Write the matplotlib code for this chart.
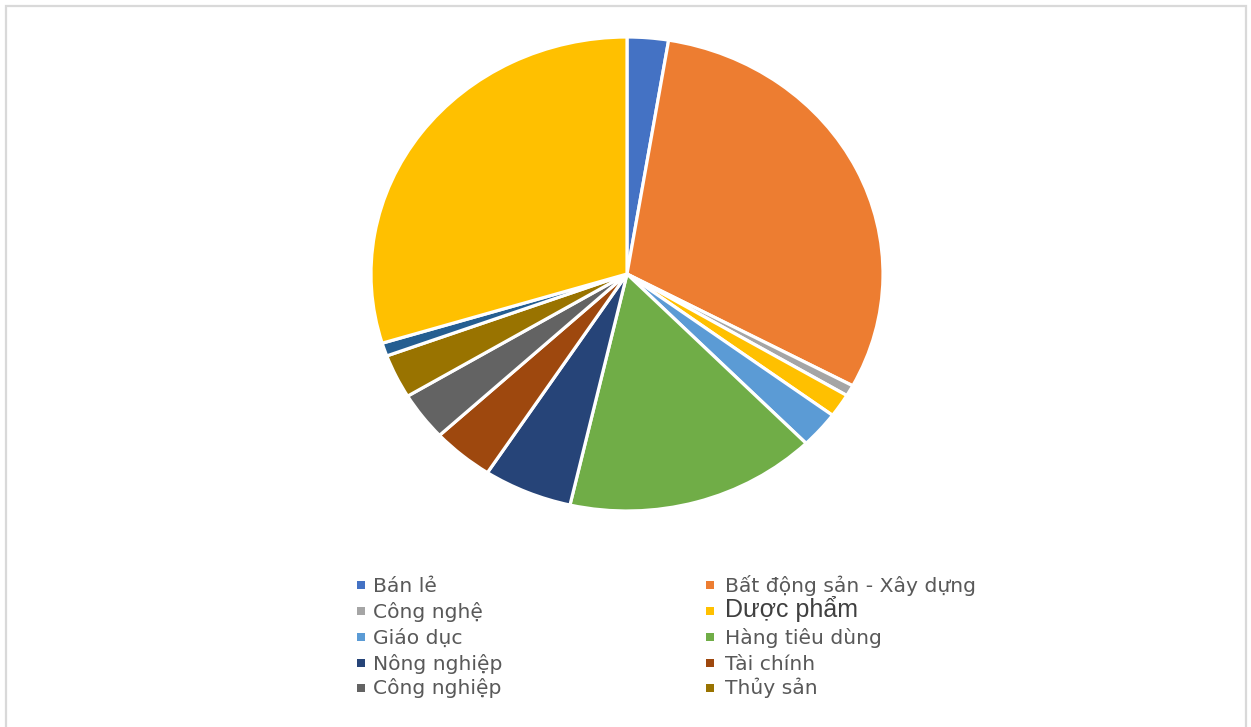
import matplotlib.pyplot as plt
from matplotlib.patches import Rectangle

# sector shares (%), clockwise from 12 o'clock
sectors = ["Bán lẻ", "Bất động sản - Xây dựng", "Công nghệ", "Dược phẩm",
           "Giáo dục", "Hàng tiêu dùng", "Nông nghiệp", "Tài chính",
           "Công nghiệp", "Thủy sản"]
shares = [2.6, 30.2, 0.75, 1.6, 2.5, 15.9, 5.6, 3.9, 3.3, 3.0, 0.9, 29.7]
colors = ["#4472C4", "#ED7D31", "#A5A5A5", "#FFC000", "#5B9BD5", "#70AD47",
          "#264478", "#9E480E", "#636363", "#997300", "#255E91", "#FFC000"]

W, H = 1251, 727
fig = plt.figure(figsize=(W / 100, H / 100), dpi=100)

# pie box in pixels: centre (627, 274), radii 256 x 237
cx, cy, rx, ry = 627, 274, 256, 237
lim = 1.05
ax = fig.add_axes([(cx - rx * lim) / W, (H - cy - ry * lim) / H,
                   2 * rx * lim / W, 2 * ry * lim / H])
wedges, _ = ax.pie(shares, colors=colors, startangle=90, counterclock=False,
                   wedgeprops=dict(edgecolor="white", linewidth=2.3))
ax.set_aspect("auto")
ax.set_xlim(-lim, lim)
ax.set_ylim(-lim, lim)
ax.axis("off")

# legend: two columns filled row by row, fixed row pitch (pixels from top)
col_marker_x = [361, 710]
col_text_x = [373, 725]
row_y = [585, 611, 637, 663, 688]
sq = 8
for i, name in enumerate(sectors):
    col, row = i % 2, i // 2
    mx, my = col_marker_x[col], row_y[row]
    fig.add_artist(Rectangle(((mx - sq / 2) / W, 1 - (my + sq / 2) / H),
                             sq / W, sq / H, transform=fig.transFigure,
                             facecolor=wedges[i].get_facecolor(),
                             edgecolor="none"))
    style = dict(family="DejaVu Sans", size=14.6, color="#595959")
    if name == "Dược phẩm":
        style = dict(family="Liberation Sans", size=18, color="#404040")
    fig.text(col_text_x[col] / W, 1 - (my + 6.5) / H, name,
             ha="left", va="baseline", **style)

# light grey frame around the chart area
fig.patches.append(Rectangle((6 / W, -0.05), 1240 / W, 1 - 6 / H + 0.05,
                             transform=fig.transFigure, fill=False,
                             edgecolor="#d9d9d9", linewidth=1.6))

fig.savefig("out.png", dpi=100)
